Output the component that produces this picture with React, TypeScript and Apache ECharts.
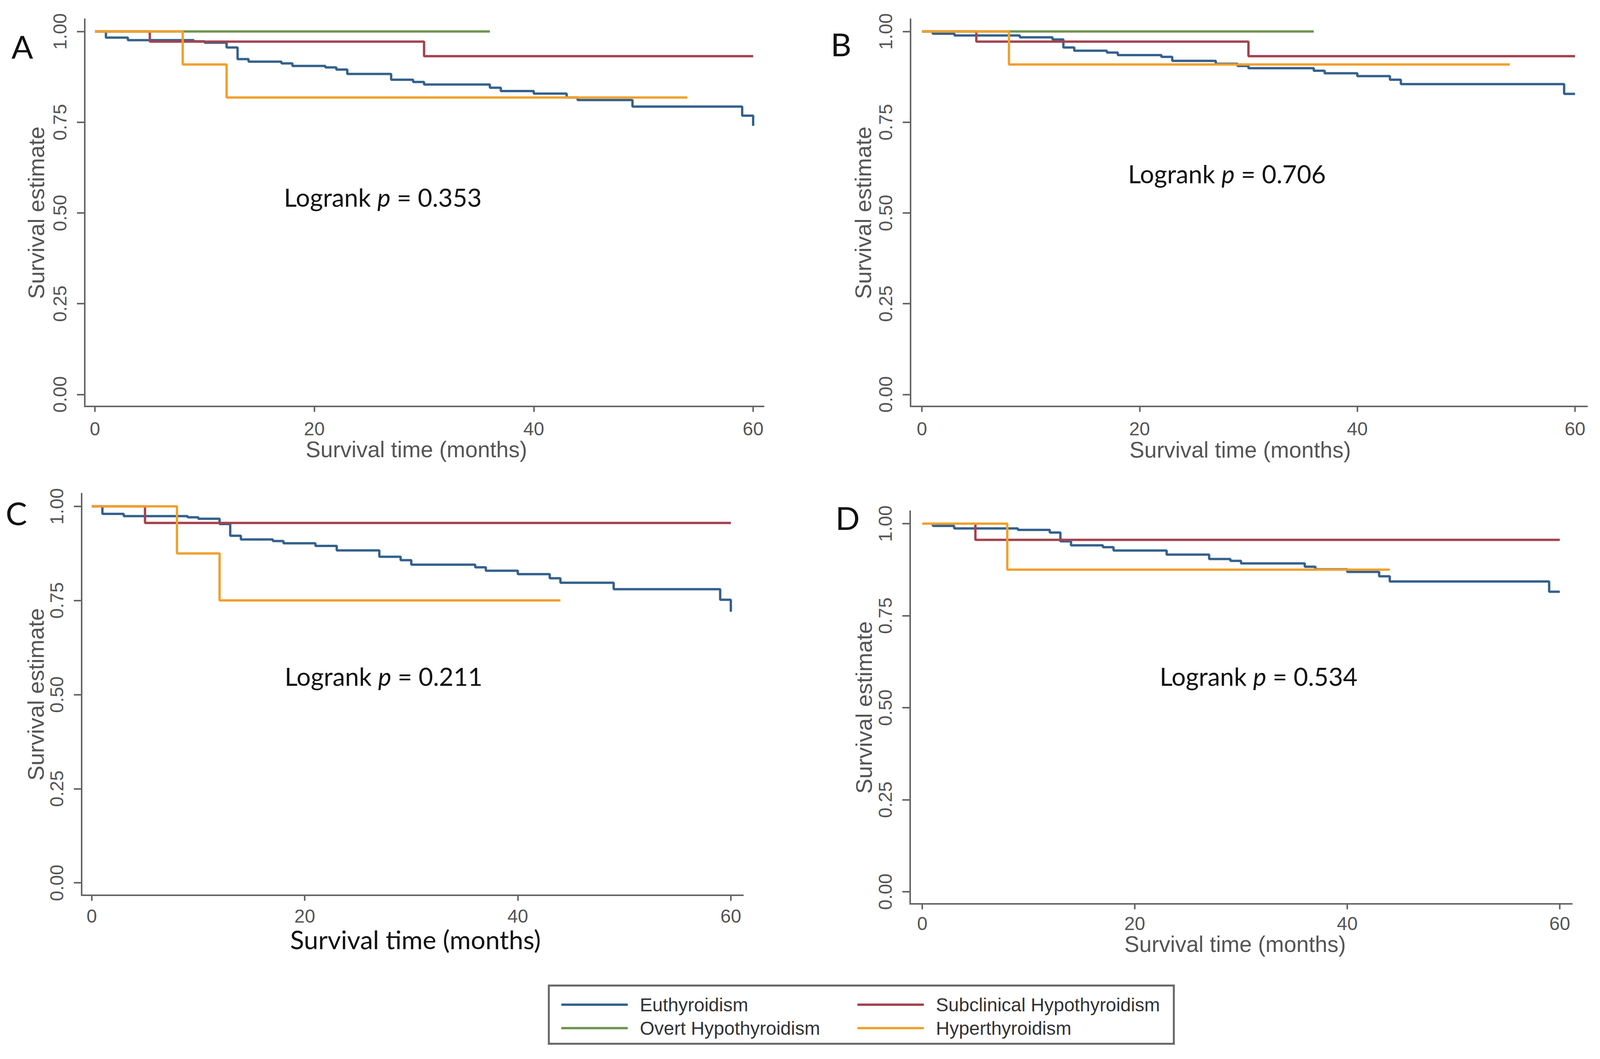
import React, { useEffect, useRef } from "react";
import * as echarts from "echarts";

// ---------- data ----------
const X_TICKS = [0, 20, 40, 60];
const Y_TICKS = [0, 0.25, 0.5, 0.75, 1];
const GROUPS = ["Euthyroidism", "Subclinical Hypothyroidism", "Overt Hypothyroidism", "Hyperthyroidism"];
const PANEL_LETTERS = ["A", "B", "C", "D"];
const LOGRANK_P = ["0.353", "0.706", "0.211", "0.534"];
const X_TITLE = "Survival time (months)";
const Y_TITLE = "Survival estimate";

// Panel A  [month, survival]
const euthyroidA = [[0, 1], [1, 0.983], [3, 0.976], [9, 0.973], [10, 0.969], [12, 0.956], [13, 0.924], [14, 0.917], [17, 0.912], [18, 0.905], [21, 0.901], [22, 0.895], [23, 0.883], [27, 0.867], [29, 0.861], [30, 0.854], [36, 0.845], [37, 0.836], [40, 0.829], [43, 0.818], [44, 0.811], [49, 0.793], [59, 0.768], [60, 0.74]];
const subclinicalA = [[0, 1], [5, 0.972], [30, 0.932], [60, 0.932]];
const overtA = [[0, 1], [36, 1]];
const hyperA = [[0, 1], [8, 0.909], [12, 0.818], [54, 0.818]];

// Panel B
const euthyroidB = [[0, 1], [1, 0.994], [3, 0.989], [9, 0.984], [12, 0.978], [13, 0.956], [14, 0.947], [17, 0.942], [18, 0.935], [22, 0.93], [23, 0.919], [27, 0.911], [29, 0.905], [30, 0.899], [36, 0.892], [37, 0.885], [40, 0.877], [43, 0.867], [44, 0.855], [59, 0.828], [60, 0.828]];
const subclinicalB = [[0, 1], [5, 0.972], [30, 0.932], [60, 0.932]];
const overtB = [[0, 1], [36, 1]];
const hyperB = [[0, 1], [8, 0.909], [54, 0.909]];

// Panel C
const euthyroidC = [[0, 1], [1, 0.98], [3, 0.974], [9, 0.971], [10, 0.967], [12, 0.953], [13, 0.922], [14, 0.912], [17, 0.908], [18, 0.902], [21, 0.895], [23, 0.883], [27, 0.866], [29, 0.857], [30, 0.845], [36, 0.838], [37, 0.829], [40, 0.82], [43, 0.809], [44, 0.797], [49, 0.78], [59, 0.752], [60, 0.72]];
const subclinicalC = [[0, 1], [5, 0.956], [60, 0.956]];
const overtC: number[][] = [];
const hyperC = [[0, 1], [8, 0.875], [12, 0.75], [44, 0.75]];

// Panel D
const euthyroidD = [[0, 1], [1, 0.994], [3, 0.987], [9, 0.983], [12, 0.976], [13, 0.952], [14, 0.941], [17, 0.936], [18, 0.927], [23, 0.916], [27, 0.904], [29, 0.899], [30, 0.892], [36, 0.883], [37, 0.876], [40, 0.869], [43, 0.857], [44, 0.843], [59, 0.815], [60, 0.815]];
const subclinicalD = [[0, 1], [5, 0.956], [60, 0.956]];
const overtD: number[][] = [];
const hyperD = [[0, 1], [8, 0.875], [44, 0.875]];

const PANEL_DATA = [
  [euthyroidA, subclinicalA, overtA, hyperA],
  [euthyroidB, subclinicalB, overtB, hyperB],
  [euthyroidC, subclinicalC, overtC, hyperC],
  [euthyroidD, subclinicalD, overtD, hyperD],
];

// ---------- styles / layout ----------
const COLORS = ["#34618d", "#a4424f", "#6f9552", "#f0a02d"];
const AXIS_GRAY = "#666666";
const TEXT_GRAY = "#555555";
const ARIAL = "'Liberation Sans', Arial, sans-serif";
const CALIBRI = "Lato, 'Noto Sans', sans-serif";

const LAYOUT = [
  { left: 217, top: 49, width: 1738, height: 991, xMin: -0.93, xMax: 60.96, yMin: -0.033, yMax: 1.034, letter: [57, 118], logrank: [980, 504], xGap: 80, xPad: [0, 40, 0, 0], xLabelMargin: 33, yGap: 96, calibriX: false },
  { left: 2331, top: 49, width: 1732, height: 991, xMin: -1.04, xMax: 61.11, yMin: -0.033, yMax: 1.034, letter: [2153, 112], logrank: [3141, 444], xGap: 82, xPad: [0, 44, 0, 0], xLabelMargin: 33, yGap: 93, calibriX: false },
  { left: 209, top: 1263, width: 1693, height: 1028, xMin: -0.95, xMax: 61.14, yMin: -0.033, yMax: 1.034, letter: [42, 1312], logrank: [982, 1730], xGap: 79, xPad: [0, 0, 0, 16], xLabelMargin: 29, yGap: 88, calibriX: true },
  { left: 2330, top: 1308, width: 1694, height: 1005, xMin: -1.14, xMax: 61.14, yMin: -0.033, yMax: 1.034, letter: [2170, 1324], logrank: [3222, 1730], xGap: 68, xPad: [0, 30, 0, 0], xLabelMargin: 26, yGap: 90, calibriX: false },
];

function buildOption() {
  const grid = LAYOUT.map((l) => ({ left: l.left, top: l.top, width: l.width, height: l.height, containLabel: false }));

  const xAxis = LAYOUT.map((l, i) => ({
    type: "value",
    gridIndex: i,
    min: l.xMin,
    max: l.xMax,
    name: X_TITLE,
    nameLocation: "middle",
    nameGap: l.xGap,
    nameTextStyle: l.calibriX
      ? { fontFamily: CALIBRI, fontSize: 66, color: "#111111", padding: l.xPad }
      : { fontFamily: ARIAL, fontSize: 57, color: TEXT_GRAY, padding: l.xPad },
    axisLine: { show: true, onZero: false, lineStyle: { color: AXIS_GRAY, width: 4 } },
    axisTick: { show: true, customValues: X_TICKS, length: 14, lineStyle: { color: AXIS_GRAY, width: 4 } },
    axisLabel: { show: true, customValues: X_TICKS, fontFamily: ARIAL, fontSize: 48, color: TEXT_GRAY, margin: l.xLabelMargin },
    splitLine: { show: false },
  }));

  const yAxis = LAYOUT.map((l, i) => ({
    type: "value",
    gridIndex: i,
    min: l.yMin,
    max: l.yMax,
    name: Y_TITLE,
    nameLocation: "middle",
    nameGap: l.yGap,
    nameTextStyle: { fontFamily: ARIAL, fontSize: 58, color: TEXT_GRAY },
    axisLine: { show: true, onZero: false, lineStyle: { color: AXIS_GRAY, width: 4 } },
    axisTick: { show: true, customValues: Y_TICKS, length: 20, lineStyle: { color: AXIS_GRAY, width: 4 } },
    axisLabel: {
      show: true,
      customValues: Y_TICKS,
      rotate: 90,
      fontFamily: ARIAL,
      fontSize: 48,
      color: TEXT_GRAY,
      margin: 40,
      formatter: (v: number) => v.toFixed(2),
    },
    splitLine: { show: false },
  }));

  const series: any[] = [];
  PANEL_DATA.forEach((groups, p) => {
    groups.forEach((data, g) => {
      if (!data.length) return;
      series.push({
        type: "line",
        name: GROUPS[g],
        data,
        step: "end",
        xAxisIndex: p,
        yAxisIndex: p,
        symbol: "none",
        silent: true,
        z: 2 + g,
        lineStyle: { color: COLORS[g], width: 6 },
        itemStyle: { color: COLORS[g] },
      });
    });
  });

  const graphic: any[] = [];
  LAYOUT.forEach((l, i) => {
    graphic.push({
      type: "text",
      x: l.letter[0],
      y: l.letter[1],
      style: { text: PANEL_LETTERS[i], fontFamily: CALIBRI, fontSize: 82, fill: "#111111", align: "center", verticalAlign: "middle" },
    });
    graphic.push({
      type: "text",
      x: l.logrank[0],
      y: l.logrank[1],
      style: {
        text: `{n|Logrank }{i|p}{n| = ${LOGRANK_P[i]}}`,
        align: "center",
        verticalAlign: "middle",
        rich: {
          n: { fontFamily: CALIBRI, fontSize: 64, fill: "#111111" },
          i: { fontFamily: CALIBRI, fontSize: 64, fontStyle: "italic", fill: "#111111" },
        },
      },
    });
  });
  graphic.push({
    type: "rect",
    shape: { x: 1405, y: 2522, width: 1600, height: 149 },
    style: { fill: "#ffffff", stroke: "#666666", lineWidth: 5 },
    z: 0,
  });

  const legendCommon = {
    orient: "vertical",
    icon: "rect",
    itemWidth: 170,
    itemHeight: 6,
    itemGap: 12,
    selectedMode: false,
    textStyle: { fontFamily: ARIAL, fontSize: 48, color: "#333333", padding: [0, 0, 0, 26] },
    z: 10,
  };

  return {
    animation: false,
    backgroundColor: "#ffffff",
    grid,
    xAxis,
    yAxis,
    series,
    graphic,
    legend: [
      { ...legendCommon, left: 1432, top: 2542, data: [GROUPS[0], GROUPS[2]] },
      { ...legendCommon, left: 2190, top: 2542, data: [GROUPS[1], GROUPS[3]] },
    ],
  };
}

export default function App() {
  const ref = useRef<HTMLDivElement>(null);
  useEffect(() => {
    document.body.style.margin = "0";
    if (!ref.current) return;
    const chart = echarts.init(ref.current, undefined, { renderer: "svg" });
    chart.setOption(buildOption() as any);
    return () => chart.dispose();
  }, []);
  return <div ref={ref} style={{ position: "absolute", left: 0, top: 0, width: 4115, height: 2710 }} />;
}
